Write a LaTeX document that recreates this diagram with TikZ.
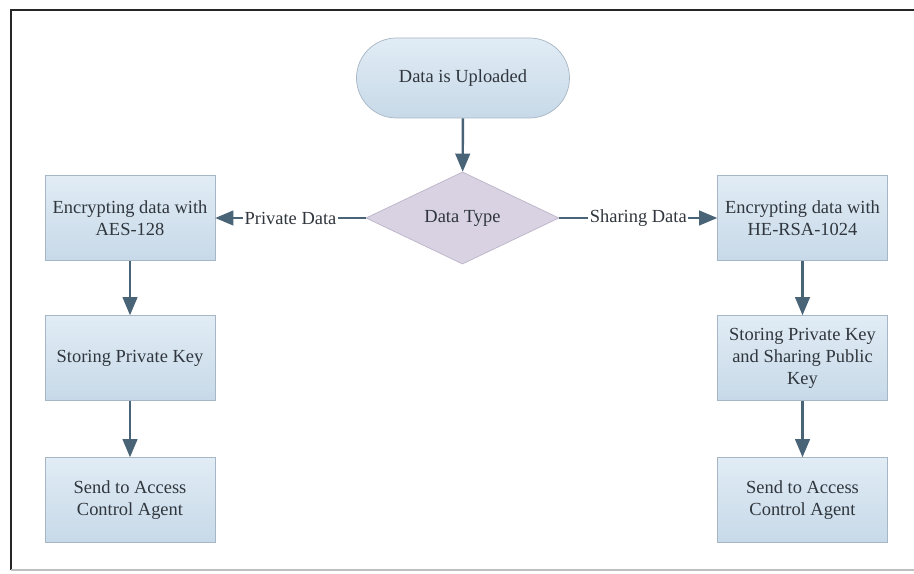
\documentclass[tikz,border=0pt]{standalone}
\usepackage{fontspec}
\setmainfont{Liberation Serif}
\usepackage{tikz}
\usetikzlibrary{shapes,shapes.geometric}
\usetikzlibrary{arrows}
\definecolor{khungxanh}{HTML}{A7B6C4}
\definecolor{nenxanhtren}{HTML}{E1ECF5}
\definecolor{nenxanhduoi}{HTML}{C7D9E8}
\definecolor{nentim}{HTML}{D9D2E3}
\definecolor{khungtim}{HTML}{BCB3C8}
\definecolor{muiten}{HTML}{4A6477}
\definecolor{chu}{HTML}{30363D}
\tikzset{
	hop/.style={draw=khungxanh,top color=nenxanhtren,bottom color=nenxanhduoi,minimum width=3.4cm,minimum height=1.7cm,align=center,text=chu,font=\fontsize{10.5}{12.5}\selectfont},
	batdau/.style={draw=khungxanh,top color=nenxanhtren,bottom color=nenxanhduoi,rounded corners=0.8cm,minimum width=4.26cm,minimum height=1.6cm,text=chu,font=\fontsize{10.5}{12.5}\selectfont},
	thoi/.style={diamond,draw=khungtim,fill=nentim,minimum width=3.86cm,minimum height=1.66cm,inner sep=0pt,text=chu,font=\fontsize{10.5}{12.5}\selectfont},
	noi/.style={draw=muiten,line width=1.4pt,-triangle 45},
	nhan/.style={fill=white,inner sep=1pt,text=chu,font=\fontsize{10.5}{12.5}\selectfont}
}
\begin{document}
\begin{tikzpicture}
			\useasboundingbox (0,0) rectangle (18.28,11.46);
			\fill[white] (0,0) rectangle (18.28,11.46);
			% khung ngoai
			\draw[line width=1.2pt,black!85] (0.22,0.06)-- (0.22,11.26)-- (18.28,11.26);
			\draw[line width=0.8pt,black!25] (0.22,0.06)-- (18.28,0.06);
	
				\node[batdau] (up) at (9.26,9.90) {Data is Uploaded};
				\node[thoi] (type) at (9.25,7.10) {Data Type};
				\node[hop] (aes) at (2.60,7.10) {Encrypting data with\\AES-128};
				\node[hop] (rsa) at (16.05,7.10) {Encrypting data with\\HE-RSA-1024};
				\node[hop] (priv) at (2.60,4.30) {Storing Private Key};
				\node[hop] (pub) at (16.05,4.30) {Storing Private Key\\and Sharing Public\\Key};
				\node[hop] (sendl) at (2.60,1.46) {Send to Access\\Control Agent};
				\node[hop] (sendr) at (16.05,1.46) {Send to Access\\Control Agent};
	
				\draw[noi] (up)-- (type);
				\draw[noi] (type)-- node[nhan] {Private Data} (aes);
				\draw[noi] (type)-- node[nhan] {Sharing Data} (rsa);
				\draw[noi] (aes)-- (priv);
				\draw[noi] (priv)-- (sendl);
				\draw[noi] (rsa)-- (pub);
				\draw[noi] (pub)-- (sendr);
		\end{tikzpicture}
\end{document}
